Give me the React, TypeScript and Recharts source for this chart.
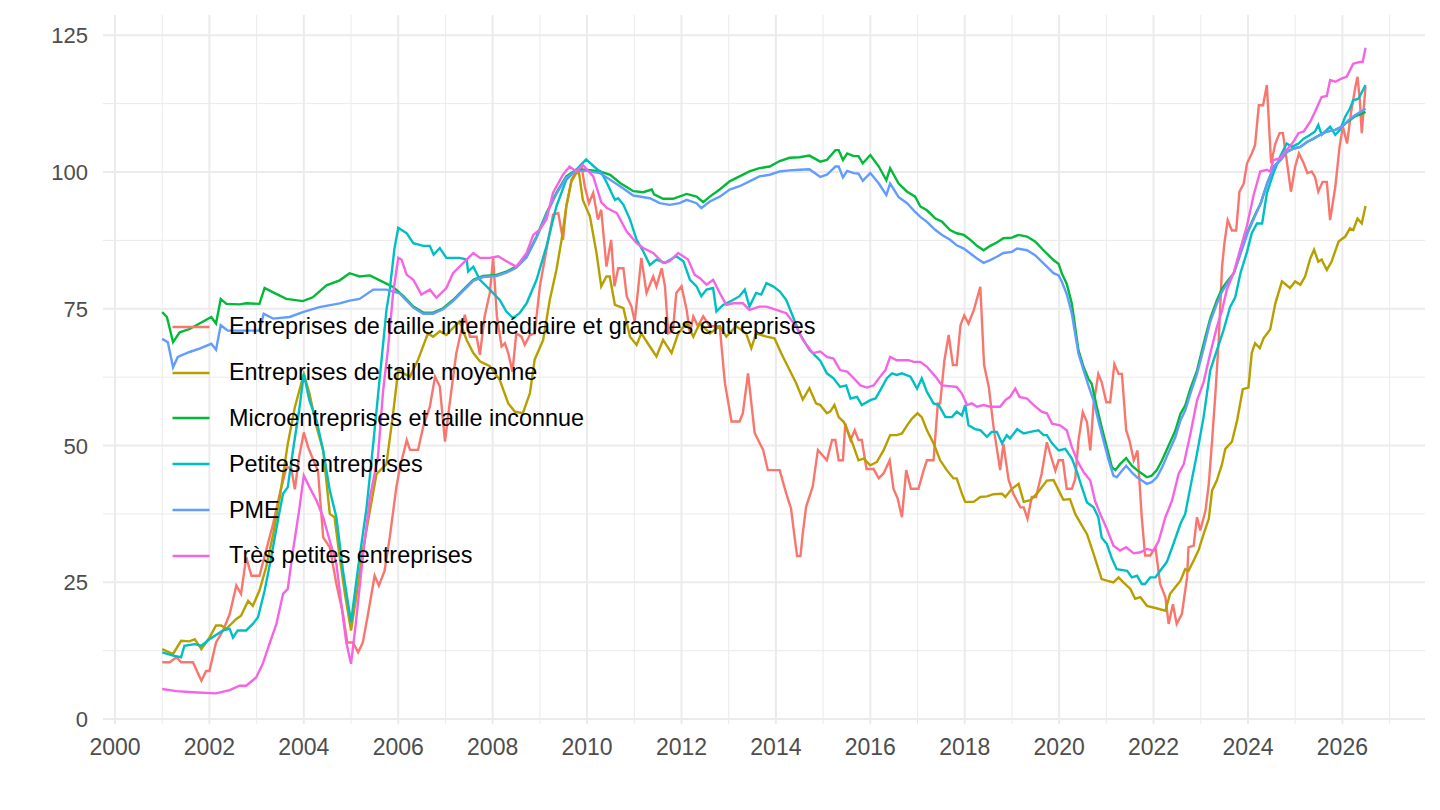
import { LineChart, Line, XAxis, YAxis, ReferenceLine, Legend } from "recharts";

// [année décimale, indice]
const eti: [number, number][] = [
  [2001.0, 10.4], [2001.16, 10.4], [2001.3, 11.3], [2001.4, 10.4], [2001.65, 10.4], [2001.83, 7.0], [2001.93, 8.8], [2002.0, 8.8],
  [2002.14, 14.0], [2002.29, 16.2], [2002.43, 19.2], [2002.57, 24.4], [2002.67, 22.9], [2002.78, 29.6], [2002.89, 26.2], [2003.06, 26.2],
  [2003.2, 30.8], [2003.35, 35.7], [2003.49, 41.2], [2003.63, 46.0], [2003.73, 46.0], [2003.81, 42.0], [2003.9, 47.9], [2004.0, 52.4],
  [2004.09, 49.7], [2004.19, 47.6], [2004.3, 45.4], [2004.41, 33.2], [2004.55, 31.4], [2004.69, 24.7], [2004.83, 19.2], [2004.92, 14.0],
  [2005.04, 14.0], [2005.15, 12.2], [2005.25, 14.0], [2005.36, 19.2], [2005.5, 26.2], [2005.59, 24.4], [2005.71, 27.1], [2005.82, 33.2],
  [2005.96, 42.4], [2006.04, 46.1], [2006.18, 51.0], [2006.25, 49.2], [2006.42, 49.2], [2006.53, 53.5], [2006.67, 57.1], [2006.78, 62.6],
  [2006.88, 60.8], [2006.99, 50.7], [2007.09, 57.7], [2007.23, 66.9], [2007.41, 73.9], [2007.52, 69.9], [2007.66, 69.9], [2007.73, 66.6],
  [2007.83, 73.6], [2007.94, 77.9], [2008.01, 84.3], [2008.09, 73.6], [2008.19, 68.1], [2008.26, 68.7], [2008.33, 66.9], [2008.42, 63.5],
  [2008.5, 70.5], [2008.61, 69.9], [2008.68, 68.4], [2008.79, 70.2], [2008.89, 70.5], [2009.0, 79.1], [2009.14, 85.8], [2009.28, 92.2],
  [2009.39, 92.5], [2009.49, 87.6], [2009.56, 93.7], [2009.67, 98.6], [2009.77, 100.1], [2009.88, 101.3], [2009.95, 97.4], [2010.04, 94.3],
  [2010.13, 96.2], [2010.23, 91.3], [2010.3, 93.1], [2010.41, 82.7], [2010.51, 87.6], [2010.58, 79.1], [2010.66, 82.4], [2010.77, 82.4],
  [2010.84, 77.3], [2010.94, 75.4], [2011.01, 72.7], [2011.15, 84.3], [2011.26, 77.9], [2011.4, 80.9], [2011.47, 79.1], [2011.58, 82.4],
  [2011.65, 79.1], [2011.72, 70.5], [2011.82, 71.1], [2011.89, 77.9], [2012.0, 79.1], [2012.11, 74.8], [2012.18, 70.5], [2012.25, 73.6],
  [2012.35, 71.8], [2012.46, 73.6], [2012.6, 71.8], [2012.81, 71.8], [2012.92, 61.4], [2013.06, 54.4], [2013.23, 54.4], [2013.3, 55.9],
  [2013.41, 63.2], [2013.55, 52.3], [2013.73, 49.2], [2013.83, 45.5], [2014.08, 45.5], [2014.22, 41.2], [2014.32, 38.5], [2014.4, 33.0],
  [2014.45, 29.8], [2014.52, 29.8], [2014.57, 34.0], [2014.64, 38.8], [2014.78, 42.5], [2014.89, 49.2], [2015.08, 47.3], [2015.19, 51.0],
  [2015.26, 51.0], [2015.33, 47.3], [2015.42, 47.3], [2015.47, 54.0], [2015.58, 51.0], [2015.67, 52.8], [2015.75, 51.0], [2015.82, 51.0],
  [2015.92, 45.7], [2016.07, 45.7], [2016.18, 44.0], [2016.28, 44.9], [2016.41, 47.3], [2016.49, 42.1], [2016.58, 40.3], [2016.67, 36.9],
  [2016.76, 45.5], [2016.86, 42.1], [2017.02, 42.1], [2017.13, 45.5], [2017.2, 47.3], [2017.34, 47.3], [2017.43, 57.7], [2017.48, 57.7],
  [2017.57, 65.6], [2017.66, 70.2], [2017.75, 64.7], [2017.83, 64.7], [2017.91, 72.0], [2017.99, 73.8], [2018.08, 72.3], [2018.19, 74.7],
  [2018.33, 79.0], [2018.41, 64.7], [2018.51, 60.7], [2018.61, 53.4], [2018.75, 45.5], [2018.82, 50.3], [2018.93, 43.7], [2019.03, 41.2],
  [2019.18, 38.7], [2019.25, 38.7], [2019.33, 36.6], [2019.42, 40.6], [2019.51, 40.6], [2019.63, 44.9], [2019.74, 50.6], [2019.81, 48.5],
  [2019.92, 45.4], [2019.99, 47.3], [2020.08, 47.3], [2020.16, 42.1], [2020.27, 42.1], [2020.34, 43.9], [2020.41, 50.9], [2020.5, 56.1],
  [2020.59, 54.3], [2020.66, 49.1], [2020.73, 57.6], [2020.83, 63.1], [2020.9, 61.6], [2021.0, 57.9], [2021.08, 57.9], [2021.17, 64.9],
  [2021.26, 63.1], [2021.33, 63.1], [2021.42, 52.8], [2021.49, 50.9], [2021.58, 47.3], [2021.66, 49.1], [2021.75, 36.9], [2021.82, 29.9],
  [2021.93, 29.9], [2022.04, 31.4], [2022.14, 24.7], [2022.25, 22.3], [2022.32, 17.4], [2022.41, 21.0], [2022.49, 17.4], [2022.6, 19.2],
  [2022.71, 25.9], [2022.74, 31.4], [2022.85, 31.7], [2022.92, 36.9], [2022.99, 34.5], [2023.1, 38.1], [2023.17, 43.0], [2023.24, 50.9],
  [2023.31, 59.5], [2023.38, 69.2], [2023.45, 82.6], [2023.5, 86.9], [2023.57, 91.2], [2023.66, 89.3], [2023.75, 89.3], [2023.82, 96.4],
  [2023.91, 97.9], [2023.98, 101.6], [2024.08, 103.4], [2024.15, 104.9], [2024.23, 112.2], [2024.32, 112.2], [2024.4, 115.9], [2024.49, 101.6],
  [2024.58, 105.2], [2024.67, 107.1], [2024.74, 107.1], [2024.82, 102.2], [2024.91, 96.4], [2025.0, 101.0], [2025.08, 103.4], [2025.18, 101.6],
  [2025.26, 99.8], [2025.35, 100.1], [2025.42, 99.1], [2025.49, 96.4], [2025.58, 98.2], [2025.67, 98.2], [2025.74, 91.2], [2025.85, 97.3],
  [2025.94, 104.6], [2026.01, 108.3], [2026.1, 105.2], [2026.18, 110.7], [2026.27, 115.3], [2026.32, 117.4], [2026.37, 113.1], [2026.41, 107.1],
  [2026.49, 115.6],
];

const moyennes: [number, number][] = [
  [2001.0, 12.8], [2001.23, 11.9], [2001.4, 14.3], [2001.58, 14.2], [2001.69, 14.6], [2001.83, 12.8], [2002.0, 14.9], [2002.14, 17.1],
  [2002.25, 17.1], [2002.36, 16.5], [2002.57, 18.3], [2002.67, 18.9], [2002.82, 21.6], [2002.92, 20.7], [2003.06, 23.5], [2003.2, 27.7],
  [2003.35, 33.8], [2003.49, 40.5], [2003.66, 50.3], [2003.81, 57.0], [2004.0, 63.1], [2004.12, 59.5], [2004.27, 53.4], [2004.41, 49.1],
  [2004.55, 37.5], [2004.65, 36.9], [2004.76, 29.6], [2004.87, 22.9], [2005.0, 16.2], [2005.11, 22.3], [2005.25, 30.8], [2005.4, 38.1],
  [2005.54, 44.8], [2005.75, 46.6], [2005.89, 55.8], [2006.0, 63.8], [2006.11, 63.2], [2006.25, 62.6], [2006.42, 65.7], [2006.63, 70.5],
  [2006.74, 69.9], [2006.88, 70.9], [2007.02, 70.2], [2007.16, 71.5], [2007.3, 72.7], [2007.45, 69.3], [2007.59, 66.9], [2007.73, 65.4],
  [2007.94, 64.5], [2008.15, 62.0], [2008.33, 57.7], [2008.47, 56.2], [2008.64, 55.9], [2008.79, 59.6], [2008.89, 65.7], [2009.07, 69.3],
  [2009.21, 76.6], [2009.35, 82.1], [2009.46, 87.6], [2009.56, 93.7], [2009.67, 98.3], [2009.77, 99.8], [2009.83, 99.8], [2009.91, 94.9],
  [2010.06, 91.9], [2010.2, 85.2], [2010.3, 79.1], [2010.41, 80.9], [2010.48, 80.9], [2010.59, 75.7], [2010.77, 75.1], [2010.91, 69.9],
  [2011.05, 68.4], [2011.15, 70.5], [2011.33, 68.1], [2011.47, 66.3], [2011.61, 69.3], [2011.79, 66.9], [2011.93, 70.5], [2012.11, 72.4],
  [2012.25, 69.9], [2012.39, 72.4], [2012.6, 70.5], [2012.81, 71.8], [2012.95, 69.9], [2013.16, 71.8], [2013.37, 70.5], [2013.48, 67.8],
  [2013.58, 70.5], [2013.8, 69.9], [2013.97, 69.6], [2014.11, 66.9], [2014.29, 63.8], [2014.43, 61.4], [2014.57, 58.4], [2014.71, 60.5],
  [2014.85, 57.7], [2014.94, 57.4], [2015.08, 55.9], [2015.15, 56.2], [2015.24, 57.4], [2015.33, 55.2], [2015.44, 54.3], [2015.54, 52.2],
  [2015.61, 50.7], [2015.75, 47.3], [2015.86, 47.6], [2016.0, 46.4], [2016.14, 47.0], [2016.28, 49.1], [2016.42, 51.9], [2016.56, 51.9],
  [2016.67, 52.2], [2016.78, 53.7], [2016.88, 54.9], [2017.0, 55.9], [2017.09, 55.2], [2017.2, 52.8], [2017.34, 50.4], [2017.48, 47.3],
  [2017.62, 45.5], [2017.76, 44.0], [2017.83, 44.0], [2017.94, 41.2], [2018.01, 39.7], [2018.19, 39.7], [2018.33, 40.6], [2018.47, 40.7],
  [2018.61, 41.1], [2018.79, 41.2], [2018.86, 40.6], [2019.0, 42.1], [2019.14, 43.0], [2019.25, 39.7], [2019.39, 40.0], [2019.53, 41.2],
  [2019.74, 43.6], [2019.88, 43.7], [2019.99, 41.8], [2020.09, 40.1], [2020.23, 40.2], [2020.34, 37.5], [2020.48, 35.4], [2020.59, 33.8],
  [2020.73, 30.2], [2020.9, 25.6], [2021.01, 25.3], [2021.15, 25.0], [2021.26, 25.9], [2021.36, 25.0], [2021.51, 23.8], [2021.61, 22.0],
  [2021.72, 22.3], [2021.86, 20.7], [2022.04, 20.3], [2022.25, 19.8], [2022.35, 22.9], [2022.46, 24.1], [2022.57, 25.3], [2022.67, 27.4],
  [2022.74, 27.1], [2022.85, 29.0], [2022.95, 30.8], [2023.06, 33.8], [2023.17, 36.6], [2023.24, 41.8], [2023.34, 43.6], [2023.45, 46.6],
  [2023.52, 49.4], [2023.66, 50.7], [2023.77, 54.6], [2023.89, 60.3], [2024.01, 60.6], [2024.08, 66.9], [2024.15, 68.7], [2024.25, 67.8],
  [2024.33, 69.6], [2024.47, 71.2], [2024.58, 76.0], [2024.72, 80.0], [2024.89, 78.8], [2025.0, 80.0], [2025.11, 79.4], [2025.21, 80.9],
  [2025.32, 84.2], [2025.4, 85.8], [2025.49, 83.6], [2025.56, 84.0], [2025.67, 82.1], [2025.77, 83.6], [2025.92, 87.3], [2026.06, 88.2],
  [2026.16, 89.7], [2026.23, 89.4], [2026.32, 91.5], [2026.41, 90.6], [2026.49, 93.8],
];

const micro: [number, number][] = [
  [2001.0, 74.4], [2001.1, 73.5], [2001.23, 68.9], [2001.37, 70.7], [2001.58, 71.3], [2001.79, 72.3], [2002.04, 73.5], [2002.14, 72.3],
  [2002.24, 76.8], [2002.36, 75.9], [2002.64, 75.8], [2002.78, 76.0], [2003.06, 75.9], [2003.17, 78.8], [2003.35, 78.0], [2003.63, 76.8],
  [2003.98, 76.4], [2004.19, 77.1], [2004.48, 79.3], [2004.76, 80.2], [2004.97, 81.5], [2005.18, 80.9], [2005.4, 81.1], [2005.61, 80.2],
  [2005.89, 79.0], [2006.11, 77.3], [2006.32, 75.4], [2006.53, 74.3], [2006.74, 74.3], [2006.95, 75.1], [2007.16, 76.6], [2007.38, 78.5],
  [2007.59, 80.3], [2007.8, 81.0], [2008.08, 81.2], [2008.29, 81.8], [2008.5, 82.7], [2008.72, 84.6], [2008.93, 88.2], [2009.14, 92.5],
  [2009.35, 96.2], [2009.56, 99.2], [2009.77, 100.4], [2009.98, 100.4], [2010.27, 100.1], [2010.49, 99.5], [2010.7, 98.0], [2010.98, 96.5],
  [2011.19, 96.3], [2011.37, 96.8], [2011.42, 95.9], [2011.61, 95.1], [2011.82, 95.1], [2012.11, 96.0], [2012.32, 95.5], [2012.46, 94.5],
  [2012.6, 95.5], [2012.81, 96.8], [2013.02, 98.3], [2013.23, 99.2], [2013.44, 100.1], [2013.65, 100.7], [2013.87, 101.0], [2014.08, 102.0],
  [2014.29, 102.6], [2014.5, 102.7], [2014.71, 103.0], [2014.94, 101.9], [2015.08, 102.2], [2015.26, 104.0], [2015.33, 104.0], [2015.42, 102.2],
  [2015.51, 103.4], [2015.65, 102.9], [2015.75, 102.9], [2015.84, 101.6], [2016.0, 103.1], [2016.18, 101.0], [2016.34, 98.5], [2016.42, 100.7],
  [2016.6, 97.9], [2016.78, 96.4], [2016.95, 95.5], [2017.06, 93.7], [2017.2, 93.0], [2017.38, 91.5], [2017.52, 90.9], [2017.69, 89.4],
  [2017.83, 88.8], [2017.98, 88.5], [2018.12, 87.6], [2018.26, 86.5], [2018.4, 85.7], [2018.54, 86.5], [2018.68, 87.1], [2018.82, 87.9],
  [2019.0, 88.0], [2019.14, 88.5], [2019.32, 88.2], [2019.49, 87.3], [2019.67, 85.7], [2019.88, 83.9], [2019.99, 83.2], [2020.06, 81.4],
  [2020.16, 79.6], [2020.27, 75.9], [2020.34, 71.6], [2020.41, 67.4], [2020.52, 64.3], [2020.62, 62.2], [2020.69, 61.3], [2020.8, 57.0],
  [2020.9, 53.4], [2021.01, 49.7], [2021.12, 46.0], [2021.19, 45.5], [2021.29, 46.6], [2021.42, 47.7], [2021.54, 46.3], [2021.65, 45.5],
  [2021.75, 44.9], [2021.86, 44.2], [2021.96, 44.5], [2022.07, 45.5], [2022.18, 47.3], [2022.32, 50.0], [2022.46, 52.7], [2022.57, 55.8],
  [2022.67, 57.3], [2022.78, 60.4], [2022.92, 63.7], [2023.06, 68.6], [2023.2, 73.2], [2023.34, 76.5], [2023.45, 78.7], [2023.56, 80.0],
  [2023.7, 81.5], [2023.84, 85.2], [2023.98, 88.8], [2024.13, 91.8], [2024.27, 94.3], [2024.41, 98.0], [2024.55, 101.0], [2024.69, 102.2],
  [2024.83, 103.7], [2024.97, 104.3], [2025.11, 104.6], [2025.25, 105.5], [2025.39, 106.1], [2025.53, 106.8], [2025.67, 107.4], [2025.85, 107.7],
  [2025.99, 108.3], [2026.13, 109.3], [2026.27, 110.2], [2026.37, 110.5], [2026.49, 111.0],
];

const petites: [number, number][] = [
  [2001.0, 12.2], [2001.23, 11.6], [2001.4, 11.3], [2001.47, 13.4], [2001.69, 13.7], [2001.83, 13.4], [2002.0, 14.6], [2002.29, 16.2],
  [2002.43, 16.5], [2002.5, 14.9], [2002.6, 16.2], [2002.78, 16.2], [2002.92, 17.4], [2003.03, 18.6], [2003.17, 23.5], [2003.31, 29.6],
  [2003.45, 36.3], [2003.56, 41.2], [2003.66, 42.4], [2003.77, 49.1], [2003.9, 56.4], [2004.0, 63.1], [2004.12, 58.2], [2004.27, 54.6],
  [2004.41, 49.1], [2004.55, 41.8], [2004.69, 36.9], [2004.83, 27.1], [2005.0, 17.7], [2005.15, 27.7], [2005.33, 38.7], [2005.47, 50.3],
  [2005.61, 62.5], [2005.75, 74.7], [2005.82, 78.5], [2005.92, 86.0], [2006.0, 89.8], [2006.18, 88.8], [2006.32, 87.0], [2006.53, 86.5],
  [2006.67, 86.5], [2006.75, 84.9], [2006.88, 86.1], [2007.02, 84.3], [2007.3, 84.3], [2007.45, 84.0], [2007.48, 81.8], [2007.59, 82.7],
  [2007.73, 80.3], [2007.94, 78.5], [2008.15, 76.6], [2008.29, 74.5], [2008.43, 73.3], [2008.57, 74.2], [2008.72, 76.0], [2008.93, 80.3],
  [2009.14, 86.4], [2009.35, 93.7], [2009.56, 98.6], [2009.77, 100.4], [2009.98, 102.3], [2010.2, 100.6], [2010.3, 100.0], [2010.42, 98.0],
  [2010.59, 94.9], [2010.66, 95.2], [2010.77, 94.0], [2010.91, 91.3], [2011.05, 87.6], [2011.19, 85.5], [2011.33, 83.0], [2011.47, 84.0],
  [2011.65, 83.4], [2011.89, 84.6], [2012.04, 83.7], [2012.18, 80.3], [2012.32, 79.1], [2012.42, 77.3], [2012.53, 78.5], [2012.67, 78.8],
  [2012.74, 74.5], [2012.88, 75.7], [2013.09, 76.6], [2013.23, 77.3], [2013.34, 78.5], [2013.44, 75.4], [2013.58, 77.9], [2013.69, 77.6],
  [2013.8, 79.7], [2013.94, 79.1], [2014.08, 78.2], [2014.22, 76.6], [2014.36, 73.6], [2014.5, 70.5], [2014.71, 67.5], [2014.94, 65.5],
  [2015.08, 63.2], [2015.22, 62.3], [2015.36, 60.7], [2015.49, 61.0], [2015.58, 58.6], [2015.72, 58.9], [2015.82, 57.4], [2016.0, 58.3],
  [2016.11, 58.6], [2016.21, 60.1], [2016.35, 62.3], [2016.46, 63.2], [2016.56, 62.9], [2016.67, 63.2], [2016.85, 62.6], [2016.99, 60.4],
  [2017.09, 62.3], [2017.2, 59.8], [2017.34, 57.7], [2017.45, 57.4], [2017.59, 55.2], [2017.73, 55.2], [2017.83, 56.2], [2017.94, 55.5],
  [2018.01, 57.4], [2018.08, 53.7], [2018.22, 53.0], [2018.33, 52.8], [2018.47, 51.6], [2018.57, 52.5], [2018.68, 52.5], [2018.79, 50.4],
  [2018.89, 51.9], [2018.96, 51.3], [2019.11, 53.0], [2019.25, 52.2], [2019.39, 52.5], [2019.56, 52.8], [2019.67, 51.9], [2019.74, 51.9],
  [2019.85, 50.4], [2019.99, 49.1], [2020.13, 49.4], [2020.27, 47.6], [2020.38, 45.1], [2020.48, 42.4], [2020.59, 39.6], [2020.73, 38.7],
  [2020.83, 36.9], [2020.9, 33.2], [2021.01, 32.0], [2021.12, 29.3], [2021.22, 27.4], [2021.44, 27.1], [2021.54, 25.9], [2021.65, 26.2],
  [2021.75, 24.7], [2021.82, 24.7], [2021.93, 25.9], [2022.04, 25.9], [2022.14, 27.1], [2022.28, 28.7], [2022.42, 32.0], [2022.57, 35.7],
  [2022.67, 37.5], [2022.78, 42.4], [2022.92, 48.5], [2023.06, 55.2], [2023.2, 63.7], [2023.34, 67.4], [2023.48, 71.0], [2023.62, 75.3],
  [2023.73, 77.1], [2023.84, 81.5], [2023.98, 85.4], [2024.08, 88.8], [2024.19, 90.6], [2024.3, 90.6], [2024.4, 96.1], [2024.54, 99.8],
  [2024.68, 102.8], [2024.82, 105.2], [2024.93, 104.6], [2025.07, 105.2], [2025.18, 106.1], [2025.32, 106.8], [2025.42, 107.4], [2025.49, 108.6],
  [2025.56, 106.8], [2025.74, 108.3], [2025.85, 106.8], [2025.95, 107.7], [2026.06, 110.1], [2026.16, 111.6], [2026.23, 113.1], [2026.34, 113.4],
  [2026.49, 115.9],
];

const pme: [number, number][] = [
  [2001.0, 69.5], [2001.12, 68.9], [2001.23, 64.3], [2001.33, 66.2], [2001.58, 67.1], [2001.79, 67.7], [2002.04, 68.6], [2002.14, 67.5],
  [2002.24, 72.0], [2002.39, 71.0], [2002.64, 71.0], [2003.06, 71.0], [2003.15, 74.1], [2003.35, 73.2], [2003.7, 73.5], [2003.98, 74.4],
  [2004.33, 75.3], [2004.76, 76.0], [2004.97, 76.5], [2005.18, 76.8], [2005.47, 78.5], [2005.75, 78.5], [2006.03, 77.8], [2006.11, 77.1],
  [2006.32, 75.2], [2006.53, 74.1], [2006.74, 74.1], [2006.95, 74.9], [2007.16, 76.4], [2007.38, 78.3], [2007.59, 80.1], [2007.8, 80.8],
  [2008.08, 81.0], [2008.29, 81.6], [2008.5, 82.5], [2008.72, 84.4], [2008.93, 88.0], [2009.14, 92.3], [2009.35, 96.0], [2009.56, 99.0],
  [2009.77, 100.2], [2009.98, 100.2], [2010.27, 99.8], [2010.7, 97.4], [2010.98, 95.7], [2011.33, 95.2], [2011.54, 94.3], [2011.75, 94.0],
  [2011.96, 94.3], [2012.11, 94.9], [2012.32, 94.3], [2012.42, 93.4], [2012.6, 94.6], [2012.81, 95.5], [2013.02, 96.8], [2013.23, 97.4],
  [2013.44, 98.3], [2013.65, 99.2], [2013.87, 99.5], [2014.08, 100.1], [2014.29, 100.3], [2014.5, 100.4], [2014.71, 100.5], [2014.94, 99.1],
  [2015.08, 99.5], [2015.26, 101.0], [2015.33, 101.0], [2015.42, 99.0], [2015.51, 100.2], [2015.65, 99.8], [2015.75, 99.7], [2015.84, 98.4],
  [2016.0, 99.8], [2016.18, 97.9], [2016.34, 95.8], [2016.42, 97.9], [2016.6, 95.4], [2016.78, 94.3], [2016.95, 92.7], [2017.06, 91.8],
  [2017.2, 90.9], [2017.38, 89.4], [2017.52, 88.5], [2017.69, 87.6], [2017.83, 86.6], [2017.98, 86.0], [2018.12, 85.1], [2018.26, 84.2],
  [2018.4, 83.4], [2018.54, 83.9], [2018.68, 84.5], [2018.82, 85.2], [2019.0, 85.4], [2019.11, 86.0], [2019.32, 85.7], [2019.49, 84.8],
  [2019.67, 83.3], [2019.88, 81.5], [2019.99, 81.1], [2020.06, 79.9], [2020.16, 77.7], [2020.27, 74.1], [2020.34, 70.4], [2020.41, 66.8],
  [2020.52, 63.7], [2020.62, 61.0], [2020.73, 58.2], [2020.83, 54.6], [2020.94, 50.9], [2021.05, 47.3], [2021.15, 44.5], [2021.22, 44.2],
  [2021.33, 45.4], [2021.42, 46.3], [2021.54, 45.1], [2021.65, 44.2], [2021.75, 43.6], [2021.86, 43.0], [2021.96, 43.3], [2022.07, 44.2],
  [2022.18, 46.0], [2022.32, 48.8], [2022.46, 51.5], [2022.57, 54.6], [2022.67, 56.4], [2022.78, 59.5], [2022.92, 63.1], [2023.06, 67.7],
  [2023.2, 72.6], [2023.34, 75.9], [2023.45, 78.1], [2023.56, 79.6], [2023.7, 81.5], [2023.84, 85.0], [2023.98, 88.6], [2024.13, 91.6],
  [2024.27, 94.3], [2024.41, 98.0], [2024.55, 101.0], [2024.69, 102.2], [2024.83, 103.7], [2024.97, 104.3], [2025.11, 104.6], [2025.25, 105.5],
  [2025.39, 106.1], [2025.53, 106.8], [2025.67, 107.4], [2025.85, 107.7], [2025.99, 108.3], [2026.13, 109.5], [2026.27, 110.4], [2026.37, 110.9],
  [2026.49, 111.6],
];

const tpe: [number, number][] = [
  [2001.0, 5.5], [2001.3, 5.1], [2001.65, 4.9], [2002.14, 4.7], [2002.43, 5.3], [2002.64, 6.1], [2002.78, 6.1], [2002.99, 7.6],
  [2003.13, 10.1], [2003.27, 13.7], [2003.42, 17.4], [2003.56, 22.9], [2003.66, 23.8], [2003.77, 30.8], [2003.9, 38.1], [2004.0, 44.5],
  [2004.12, 42.4], [2004.27, 39.9], [2004.41, 36.9], [2004.55, 32.6], [2004.69, 28.4], [2004.83, 18.6], [2004.9, 14.0], [2005.0, 10.1],
  [2005.1, 17.4], [2005.25, 29.6], [2005.4, 40.5], [2005.57, 47.9], [2005.68, 60.1], [2005.78, 67.4], [2005.89, 77.7], [2006.0, 84.3],
  [2006.07, 84.0], [2006.18, 81.2], [2006.32, 80.3], [2006.49, 77.6], [2006.67, 78.5], [2006.81, 77.0], [2007.02, 78.8], [2007.16, 81.5],
  [2007.38, 83.4], [2007.59, 85.2], [2007.73, 84.3], [2007.94, 84.3], [2008.12, 84.6], [2008.29, 83.7], [2008.5, 82.7], [2008.72, 85.2],
  [2008.86, 88.5], [2009.0, 89.5], [2009.14, 91.3], [2009.28, 96.2], [2009.49, 99.5], [2009.63, 101.0], [2009.77, 100.1], [2009.91, 101.3],
  [2010.13, 99.2], [2010.3, 94.5], [2010.42, 93.4], [2010.63, 92.5], [2010.84, 89.1], [2011.05, 87.0], [2011.19, 86.1], [2011.4, 85.2],
  [2011.61, 83.4], [2011.75, 83.7], [2011.93, 85.2], [2012.14, 84.0], [2012.28, 81.2], [2012.39, 80.6], [2012.53, 79.4], [2012.67, 80.3],
  [2012.81, 77.9], [2012.95, 75.7], [2013.09, 76.0], [2013.3, 76.0], [2013.44, 74.8], [2013.65, 75.4], [2013.8, 75.4], [2014.01, 74.8],
  [2014.22, 74.2], [2014.43, 71.8], [2014.57, 69.3], [2014.78, 66.9], [2014.94, 67.2], [2015.08, 66.2], [2015.22, 65.9], [2015.36, 63.8],
  [2015.51, 63.5], [2015.65, 62.3], [2015.79, 61.0], [2015.93, 60.6], [2016.07, 61.0], [2016.21, 62.6], [2016.32, 63.8], [2016.42, 66.2],
  [2016.56, 65.6], [2016.81, 65.6], [2016.92, 65.3], [2017.06, 65.3], [2017.2, 64.4], [2017.38, 62.6], [2017.52, 61.0], [2017.62, 60.9],
  [2017.83, 60.7], [2017.94, 59.5], [2018.05, 57.4], [2018.15, 57.7], [2018.26, 57.1], [2018.4, 57.4], [2018.54, 57.1], [2018.75, 57.1],
  [2018.86, 58.3], [2018.96, 58.9], [2019.07, 60.4], [2019.16, 58.9], [2019.32, 58.6], [2019.46, 57.4], [2019.63, 56.2], [2019.74, 55.9],
  [2019.85, 54.0], [2020.02, 53.7], [2020.16, 52.8], [2020.27, 49.7], [2020.38, 47.3], [2020.52, 45.1], [2020.66, 43.6], [2020.76, 39.9],
  [2020.87, 37.5], [2021.01, 34.8], [2021.15, 31.7], [2021.29, 30.8], [2021.42, 31.4], [2021.58, 30.3], [2021.72, 30.5], [2021.86, 31.1],
  [2022.0, 30.8], [2022.11, 32.6], [2022.25, 36.9], [2022.39, 39.9], [2022.53, 44.8], [2022.64, 46.6], [2022.78, 52.1], [2022.92, 58.2],
  [2023.06, 61.6], [2023.2, 66.8], [2023.34, 71.6], [2023.45, 74.7], [2023.55, 78.4], [2023.7, 81.7], [2023.84, 86.0], [2023.98, 90.2],
  [2024.12, 95.8], [2024.26, 100.1], [2024.4, 100.4], [2024.47, 100.1], [2024.54, 102.2], [2024.68, 102.5], [2024.82, 104.0], [2024.96, 105.5],
  [2025.07, 107.1], [2025.18, 107.4], [2025.32, 109.2], [2025.42, 111.0], [2025.56, 113.7], [2025.67, 113.9], [2025.74, 116.8], [2025.85, 116.5],
  [2025.99, 117.1], [2026.09, 117.4], [2026.23, 119.8], [2026.37, 120.1], [2026.43, 120.1], [2026.49, 122.7],
];

const seriesNames = [
  "Entreprises de taille intermédiaire et grandes entreprises",
  "Entreprises de taille moyenne",
  "Microentreprises et taille inconnue",
  "Petites entreprises",
  "PME",
  "Très petites entreprises",
];
const seriesColors = ["#F8766D", "#B79F00", "#00BA38", "#00BFC4", "#619CFF", "#F564E3"];
const seriesData = [eti, moyennes, micro, petites, pme, tpe];

const xTicks = [2000, 2002, 2004, 2006, 2008, 2010, 2012, 2014, 2016, 2018, 2020, 2022, 2024, 2026];
const xMinor = [2001, 2003, 2005, 2007, 2009, 2011, 2013, 2015, 2017, 2019, 2021, 2023, 2025, 2027];
const yTicks = [0, 25, 50, 75, 100, 125];
const yMinor = [12.5, 37.5, 62.5, 87.5, 112.5];

const FONT = "'Liberation Sans', Arial, Helvetica, sans-serif";
const GRID = "#EBEBEB";

const XTick = (props: any) => (
  <text x={props.x} y={755} textAnchor="middle" fontSize={23} fill="#4D4D4D" fontFamily={FONT}>
    {props.payload.value}
  </text>
);

const YTick = (props: any) => (
  <text x={88} y={props.y + 8} textAnchor="end" fontSize={22} fill="#4D4D4D" fontFamily={FONT}>
    {props.payload.value}
  </text>
);

const LegendBox = () => (
  <div style={{ fontFamily: FONT, fontSize: 23.4, color: "#000" }}>
    {seriesNames.map((name, i) => (
      <div key={name} style={{ height: 45.8, display: "flex", alignItems: "center", whiteSpace: "nowrap" }}>
        <svg width={57} height={10} style={{ flex: "none" }}>
          <line x1={0.5} x2={37.5} y1={5} y2={5} stroke={seriesColors[i]} strokeWidth={2.4} />
        </svg>
        <span>{name}</span>
      </div>
    ))}
  </div>
);

export default function App() {
  return (
    <div style={{ position: "absolute", left: 0, top: 0, width: 1440, height: 810, background: "#fff" }}>
      <LineChart width={1440} height={810} margin={{ top: 15, right: 15, bottom: 46, left: 53 }}>
        <XAxis
          type="number"
          dataKey="t"
          domain={[1999.746, 2027.75]}
          ticks={xTicks}
          allowDataOverflow
          axisLine={false}
          tickLine={false}
          height={40}
          tick={XTick}
        />
        <YAxis
          type="number"
          domain={[-0.9, 128.7]}
          ticks={yTicks}
          allowDataOverflow
          axisLine={false}
          tickLine={false}
          width={50}
          tick={YTick}
        />
        {xMinor.map((x) => (
          <ReferenceLine key={"xm" + x} x={x} stroke={GRID} strokeWidth={1} />
        ))}
        {yMinor.map((y) => (
          <ReferenceLine key={"ym" + y} y={y} stroke={GRID} strokeWidth={1} />
        ))}
        {xTicks.map((x) => (
          <ReferenceLine key={"x" + x} x={x} stroke={GRID} strokeWidth={2} />
        ))}
        {yTicks.map((y) => (
          <ReferenceLine key={"y" + y} y={y} stroke={GRID} strokeWidth={2} />
        ))}
        {seriesData.map((rows, i) => (
          <Line
            key={seriesNames[i]}
            name={seriesNames[i]}
            data={rows.map(([t, v]) => ({ t, v }))}
            dataKey="v"
            type="linear"
            stroke={seriesColors[i]}
            strokeWidth={2.4}
            dot={false}
            activeDot={false}
            isAnimationActive={false}
          />
        ))}
        <Legend
          layout="vertical"
          align="center"
          verticalAlign="middle"
          wrapperStyle={{ position: "absolute", left: 172, top: 304, width: 800, height: 275 }}
          content={() => <LegendBox />}
        />
      </LineChart>
    </div>
  );
}
